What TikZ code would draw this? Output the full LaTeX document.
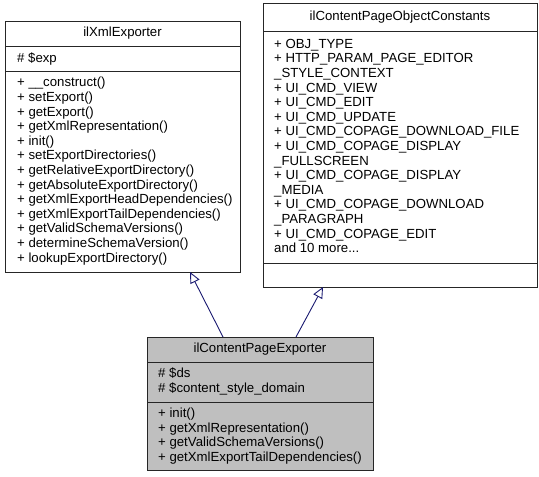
\documentclass[tikz,border=0pt]{standalone}
\usepackage{fontspec}
\setmainfont{Liberation Sans}
\usetikzlibrary{arrows.meta}
\definecolor{navyline}{HTML}{191970}
\definecolor{childfill}{HTML}{BFBFBF}
\tikzset{
  classbox/.style={draw=black!85, line width=1pt, rectangle, inner sep=0pt, anchor=north west},
  sepline/.style={draw=black!85, line width=1pt},
  txt/.style={inner sep=0pt, align=left, anchor=west, font=\fontsize{13.2}{14.6}\selectfont},
  ttl/.style={inner sep=0pt, anchor=center, font=\fontsize{13.2}{14.6}\selectfont},
  inh/.style={draw=navyline, line width=0.9pt, -{Triangle[length=11pt, width=10pt, fill=white]}},
}
\begin{document}
\begin{tikzpicture}[x=1pt, y=-1pt]
\useasboundingbox (0,0) rectangle (539,477);

% ilXmlExporter
\node[classbox, minimum width=235pt, minimum height=251pt] (xml) at (5,21) {};
\draw[sepline] (5,46) -- (240,46);
\draw[sepline] (5,71) -- (240,71);
\node[ttl] (xmlt) at (122.5,33.5) {ilXmlExporter};
\node[txt] (xmla) at (17,58.5) {\# \$exp};
\node[txt] (xmlm) at (17,171) {+ \_\_construct()\\
+ setExport()\\
+ getExport()\\
+ getXmlRepresentation()\\
+ init()\\
+ setExportDirectories()\\
+ getRelativeExportDirectory()\\
+ getAbsoluteExportDirectory()\\
+ getXmlExportHeadDependencies()\\
+ getXmlExportTailDependencies()\\
+ getValidSchemaVersions()\\
+ determineSchemaVersion()\\
+ lookupExportDirectory()};

% ilContentPageObjectConstants
\node[classbox, minimum width=274pt, minimum height=284pt] (cpo) at (263,3) {};
\draw[sepline] (263,31) -- (537,31);
\draw[sepline] (263,263) -- (537,263);
\node[ttl] (cpot) at (400,17) {ilContentPageObjectConstants};
\node[txt] (cpoa) at (274,146) {+ OBJ\_TYPE\\
+ HTTP\_PARAM\_PAGE\_EDITOR\\
\_STYLE\_CONTEXT\\
+ UI\_CMD\_VIEW\\
+ UI\_CMD\_EDIT\\
+ UI\_CMD\_UPDATE\\
+ UI\_CMD\_COPAGE\_DOWNLOAD\_FILE\\
+ UI\_CMD\_COPAGE\_DISPLAY\\
\_FULLSCREEN\\
+ UI\_CMD\_COPAGE\_DISPLAY\\
\_MEDIA\\
+ UI\_CMD\_COPAGE\_DOWNLOAD\\
\_PARAGRAPH\\
+ UI\_CMD\_COPAGE\_EDIT\\
and 10 more...};

% ilContentPageExporter
\node[classbox, fill=childfill, minimum width=226pt, minimum height=133pt] (cpe) at (147,337) {};
\draw[sepline] (147,362) -- (373,362);
\draw[sepline] (147,402) -- (373,402);
\node[ttl] (cpet) at (260,349.5) {ilContentPageExporter};
\node[txt] (cpea) at (158,381.5) {\# \$ds\\
\# \$content\_style\_domain};
\node[txt] (cpem) at (158,436) {+ init()\\
+ getXmlRepresentation()\\
+ getValidSchemaVersions()\\
+ getXmlExportTailDependencies()};

% inheritance
\coordinate (s1) at (223,337);
\coordinate (e1) at (190,272);
\coordinate (s2) at (296,337);
\coordinate (e2) at (323,287);
\draw[inh] (s1) -- (e1);
\draw[inh] (s2) -- (e2);
\end{tikzpicture}
\end{document}
